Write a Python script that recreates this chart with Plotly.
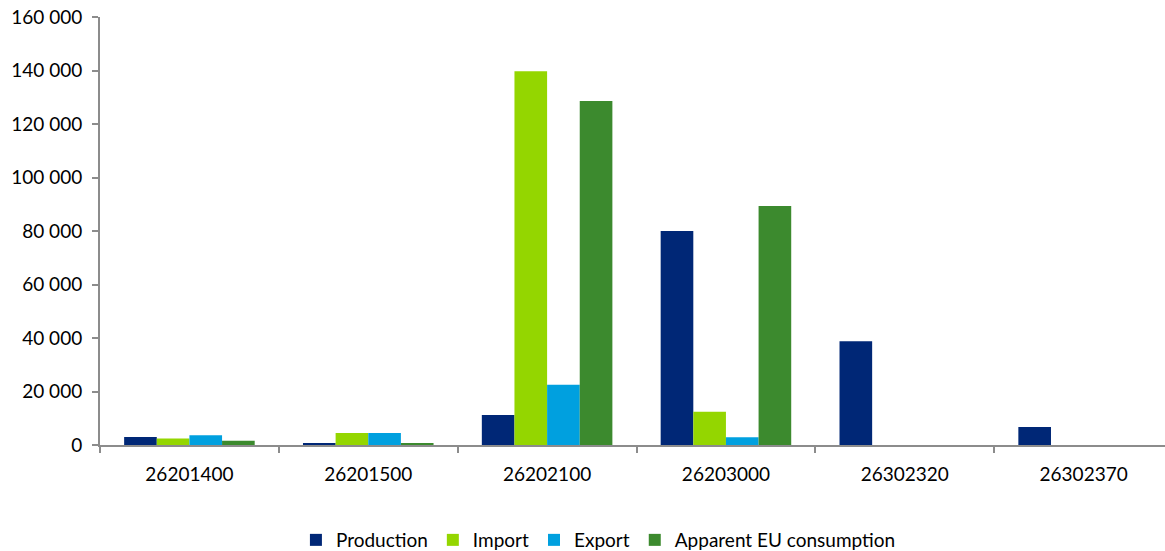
import plotly.graph_objects as go

categories = ["26201400", "26201500", "26202100", "26203000", "26302320", "26302370"]
production = [3000, 600, 11200, 80000, 38800, 6700]
imports = [2400, 4500, 139700, 12400, 0, 0]
exports = [3600, 4500, 22500, 2900, 0, 0]
consumption = [1600, 700, 128600, 89300, 0, 0]

series = [
    ("Production", production, "#002776"),
    ("Import", imports, "#94D600"),
    ("Export", exports, "#00A0DF"),
    ("Apparent EU consumption", consumption, "#3C8A2E"),
]

fig = go.Figure()
for name, vals, col in series:
    fig.add_trace(go.Bar(x=categories, y=vals, name=name,
                         marker=dict(color=col, line=dict(width=0))))

axis_col = "#8C8C8C"
fig.update_layout(
    width=1165, height=551,
    barmode="group", bargap=0.27, bargroupgap=0,
    plot_bgcolor="white", paper_bgcolor="white",
    margin=dict(l=100, r=0, t=17, b=106, autoexpand=False),
    font=dict(family="Lato", size=19, color="#000000"),
    separators=", ",
    showlegend=True,
    legend=dict(orientation="h", x=0.468, xanchor="center", y=-0.222, yanchor="middle",
                font=dict(size=19), itemwidth=30, traceorder="normal"),
    xaxis=dict(type="category", range=[-0.5, 5.455], showline=True, linecolor=axis_col,
               linewidth=2, ticks="outside", tickson="boundaries", ticklen=6,
               tickcolor=axis_col, tickwidth=2, showgrid=False, zeroline=False,
               tickfont=dict(size=19), ticklabelstandoff=11),
    yaxis=dict(range=[0, 160000], dtick=20000, tickformat=",d", showline=True,
               linecolor=axis_col, linewidth=2, ticks="outside", ticklen=6,
               tickcolor=axis_col, tickwidth=2, showgrid=False, zeroline=False,
               tickfont=dict(size=19), ticklabelstandoff=6),
)

fig.write_html("out.html", config={"displayModeBar": False},
               post_script="document.body.style.margin='0';document.body.style.overflow='hidden';")
